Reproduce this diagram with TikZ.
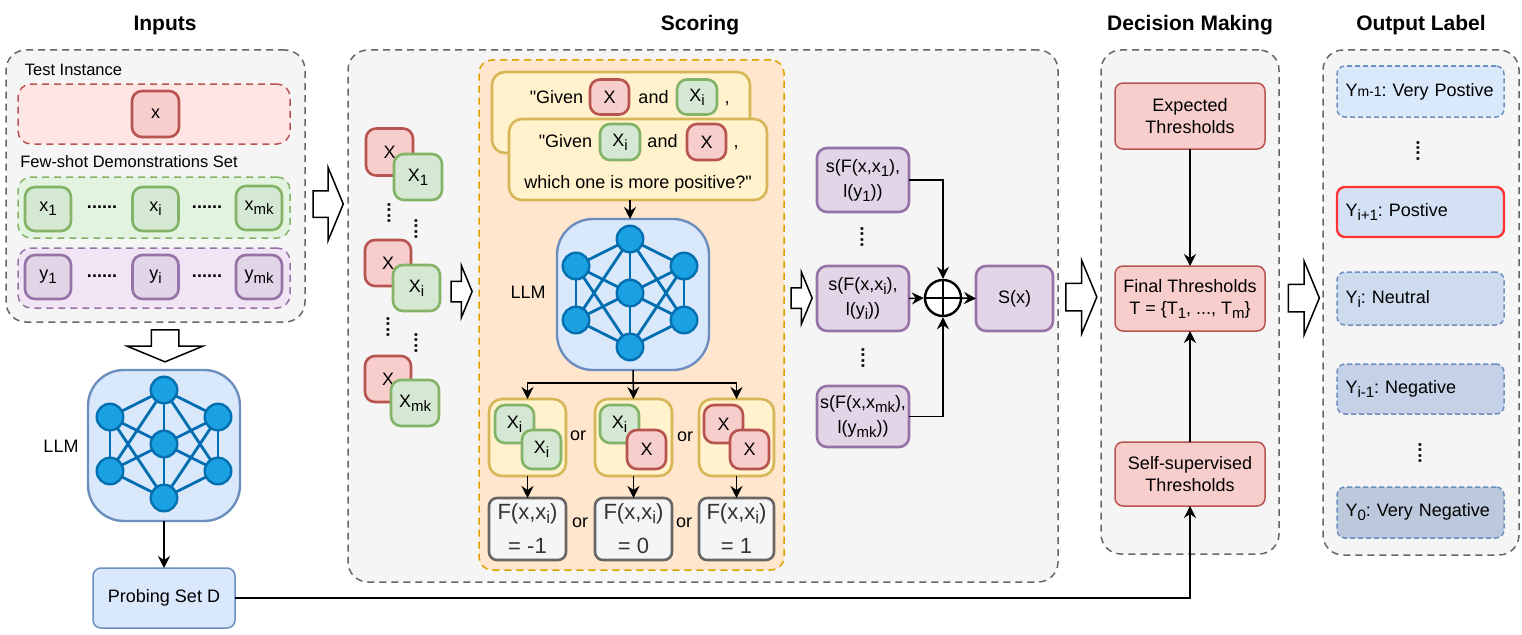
\documentclass[tikz,border=0pt]{standalone}
\usepackage{fontspec}
\setmainfont{Liberation Sans}[Ligatures=TeXOff]
\usetikzlibrary{arrows.meta, shapes.arrows}

\definecolor{panelFill}{HTML}{F5F5F5}
\definecolor{panelLine}{HTML}{666666}
\definecolor{redFill}{HTML}{F8CECC}
\definecolor{redLine}{HTML}{B85450}
\definecolor{redPanel}{HTML}{FFE6E5}
\definecolor{greenFill}{HTML}{D5E8D4}
\definecolor{greenLine}{HTML}{82B366}
\definecolor{greenPanel}{HTML}{E2F4DF}
\definecolor{purpleFill}{HTML}{E1D5E7}
\definecolor{purpleLine}{HTML}{9673A6}
\definecolor{purplePanel}{HTML}{F0E4F5}
\definecolor{blueFill}{HTML}{DAE8FC}
\definecolor{blueLine}{HTML}{6C8EBF}
\definecolor{blueFillB}{HTML}{D4E1F5}
\definecolor{blueFillC}{HTML}{CEDBEF}
\definecolor{blueFillD}{HTML}{C4D1E6}
\definecolor{blueFillE}{HTML}{BCC8DC}
\definecolor{yellowFill}{HTML}{FFF2CC}
\definecolor{yellowLine}{HTML}{D6B656}
\definecolor{orangeFill}{HTML}{FFE6CC}
\definecolor{orangeLine}{HTML}{E0A000}
\definecolor{netFill}{HTML}{1BA1E2}
\definecolor{netLine}{HTML}{006EAF}

\newcommand{\subT}[2][15]{\raisebox{-4pt}{\fontsize{#1}{#1}\selectfont #2}}

\tikzset{
  textNode/.style = {inner sep=0, font=\fontsize{18}{23}\selectfont, align=center},
  smallText/.style = {textNode, font=\fontsize{16.5}{20}\selectfont},
  titleText/.style = {textNode, font=\fontsize{21}{24}\selectfont\bfseries},
  boxSize/.style 2 args = {minimum width=#1, minimum height=#2, inner sep=0, outer sep=0, align=center, font=\fontsize{18}{25}\selectfont},
  panel/.style = {draw=panelLine, fill=panelFill, line width=1.5, dash pattern=on 7 off 5, rounded corners=20},
  subPanel/.style = {line width=1.5, dash pattern=on 7 off 5, rounded corners=13},
  cell/.style = {line width=2.6, rounded corners=10},
  redCell/.style = {cell, draw=redLine, fill=redFill},
  greenCell/.style = {cell, draw=greenLine, fill=greenFill},
  purpleCell/.style = {cell, draw=purpleLine, fill=purpleFill},
  yellowCell/.style = {cell, draw=yellowLine, fill=yellowFill, rounded corners=13},
  grayCell/.style = {cell, draw=panelLine, fill=panelFill, text=black!80, rounded corners=8},
  thresholdBox/.style = {draw=redLine, fill=redFill, line width=1.5, rounded corners=8},
  labelBox/.style = {line width=1.5, rounded corners=8, draw=blueLine, dash pattern=on 5 off 3},
  labelText/.style = {text width=150, align=left},
  llmBox/.style = {draw=blueLine, fill=blueFill, line width=2.4, rounded corners=36},
  netNode/.style = {circle, draw=netLine, fill=netFill, line width=2.4, minimum size=26.5, inner sep=0},
  netEdge/.style = {draw=netLine, line width=2.8},
  flowArrow/.style = {line width=1.5, -{Stealth[length=12, width=12, inset=4]}},
  blockArrow/.style n args = {3}{draw, fill=white, line width=1.5, single arrow, inner sep=0, outer sep=0,
    single arrow tip angle=135, minimum height=#1, text height=#3, text depth=0pt, text width=0pt,
    single arrow head extend={(#2-#3)/2}},
  hDots/.style = {textNode, font=\fontsize{18}{18}\selectfont\bfseries},
  vDots/.style = {hDots, rotate=90}
}

\newcommand{\netEdges}[1]{
  \foreach \a/\b in {Top/UpL, Top/UpR, Top/Mid, Top/LowL, Top/LowR, UpL/Mid, UpR/Mid, UpL/LowL,
    UpR/LowR, UpL/Bot, UpR/Bot, LowL/Mid, LowR/Mid, LowL/Bot, LowR/Bot, Mid/Bot}
    \draw[netEdge] (#1\a) -- (#1\b);
}
\newcommand{\netNodes}[3]{
  \begin{scope}[shift={(#2,#3)}]
    \coordinate (#1Top) at (0,-54);
    \coordinate (#1UpL) at (-54,-27);
    \coordinate (#1UpR) at (54,-27);
    \coordinate (#1Mid) at (0,0);
    \coordinate (#1LowL) at (-54,27);
    \coordinate (#1LowR) at (54,27);
    \coordinate (#1Bot) at (0,54);
  \end{scope}
  \netEdges{#1}
  \foreach \a in {Top, UpL, UpR, Mid, LowL, LowR, Bot}
    \node[netNode] (#1\a Node) at (#1\a) {};
}

\begin{document}
\frenchspacing
\begin{tikzpicture}[x=1pt, y=-1pt]
  \useasboundingbox (0,0) rectangle (1522,634);

  % titles
  \node[titleText] (titleInputs) at (165,25) {Inputs};
  \node[titleText] (titleScoring) at (700,25) {Scoring};
  \node[titleText] (titleDecision) at (1190,25) {Decision Making};
  \node[titleText] (titleOutput) at (1421,25) {Output Label};

  % inputs
  \node[panel, boxSize={299}{272}] (inputsPanel) at (155.5,186) {};
  \node[smallText] (testLabel) at (73.5,70) {Test Instance};
  \node[subPanel, draw=redLine, fill=redPanel, boxSize={272}{60}] (testPanel) at (154,114) {};
  \node[redCell, boxSize={47}{46}] (testX) at (155.5,114) {x};
  \node[smallText] (demoLabel) at (129,162) {Few-shot Demonstrations Set};

  \node[subPanel, draw=greenLine, fill=greenPanel, boxSize={272}{61}] (demoXPanel) at (154,207.5) {};
  \node[greenCell, boxSize={46}{44}] (demoXOne) at (48,209) {x\subT{1}};
  \node[hDots] (demoXDotsA) at (102,207) {......};
  \node[greenCell, boxSize={46}{44}] (demoXI) at (155.5,209) {x\subT{i}};
  \node[hDots] (demoXDotsB) at (207,207) {......};
  \node[greenCell, boxSize={46}{44}] (demoXMk) at (259,208) {x\subT{mk}};

  \node[subPanel, draw=purpleLine, fill=purplePanel, boxSize={272}{60}] (demoYPanel) at (154,278) {};
  \node[purpleCell, boxSize={46}{44}] (demoYOne) at (48,277) {y\subT{1}};
  \node[hDots] (demoYDotsA) at (102,276) {......};
  \node[purpleCell, boxSize={46}{44}] (demoYI) at (155.5,277) {y\subT{i}};
  \node[hDots] (demoYDotsB) at (207,276) {......};
  \node[purpleCell, boxSize={46}{44}] (demoYMk) at (259,277) {y\subT{mk}};

  \node[blockArrow={32}{74}{26}, rotate=-90] (arrowDown) at (165,343) {};

  \node[llmBox, boxSize={152}{151}] (llmOneBox) at (164,445.5) {};
  \netNodes{netOne}{164}{444}
  \node[textNode] (llmOneLabel) at (61,446) {LLM};

  \node[draw=blueLine, fill=blueFill, line width=1.5, rounded corners=8, boxSize={142}{60}] (probeBox) at (164,598) {Probing Set D};
  \draw[flowArrow] (llmOneBox.south) -- (probeBox.north);

  % scoring
  \node[blockArrow={30}{72}{25}] (arrowScoring) at (325.5,204) {};
  \node[panel, boxSize={710}{532}] (scoringPanel) at (703,316) {};

  \node[redCell, boxSize={47}{47}] (pairOneX) at (389.5,152) {X};
  \node[greenCell, boxSize={48}{46}] (pairOneY) at (418,177) {X\subT{1}};
  \node[vDots] (pairDotsA) at (389,213) {....};
  \node[vDots] (pairDotsB) at (416,229) {....};
  \node[redCell, boxSize={46}{46}] (pairIX) at (388,263) {X};
  \node[greenCell, boxSize={47}{46}] (pairIY) at (416.5,288) {X\subT{i}};
  \node[vDots] (pairDotsC) at (388,327) {....};
  \node[vDots] (pairDotsD) at (416,343) {....};
  \node[redCell, boxSize={46}{46}] (pairMkX) at (388,379) {X};
  \node[greenCell, boxSize={48}{46}] (pairMkY) at (415,403) {X\subT{mk}};

  \node[blockArrow={21}{51}{19}] (arrowPairs) at (459.5,291.5) {};

  \node[subPanel, draw=orangeLine, fill=orangeFill, boxSize={305}{510}] (llmPanel) at (631.5,315) {};

  \node[yellowCell, boxSize={258}{81}] (promptBack) at (621,112.5) {};
  \node[textNode] (promptBackA) at (556.5,97) {"Given};
  \node[redCell, boxSize={39}{35}] (promptBackX) at (609.5,97) {X};
  \node[textNode] (promptBackB) at (653.5,97) {and};
  \node[greenCell, boxSize={40}{35}] (promptBackY) at (697,97) {X\subT{i}};
  \node[textNode, anchor=base] (promptBackC) at (727,103) {,};

  \node[yellowCell, boxSize={258}{81}] (promptFront) at (638,159.5) {};
  \node[textNode] (promptFrontA) at (565.5,141) {"Given};
  \node[greenCell, boxSize={40}{36}] (promptFrontY) at (620,142) {X\subT{i}};
  \node[textNode] (promptFrontB) at (662.5,141) {and};
  \node[redCell, boxSize={39}{36}] (promptFrontX) at (706.5,142) {X};
  \node[textNode, anchor=base] (promptFrontC) at (736,147) {,};
  \node[textNode] (promptFrontD) at (638,184) {which one is more positive?"};

  \node[llmBox, boxSize={152}{151}] (llmTwoBox) at (633,294.5) {};
  \netNodes{netTwo}{630}{293}
  \node[textNode] (llmTwoLabel) at (528,292) {LLM};
  \draw[flowArrow] (promptFront.south -| netTwoTop) -- (llmTwoBox.north -| netTwoTop);

  \node[yellowCell, boxSize={77}{77}] (choiceA) at (527.5,437.5) {};
  \node[greenCell, boxSize={39}{38}] (choiceAOne) at (514.5,424) {X\subT{i}};
  \node[greenCell, boxSize={39}{39}] (choiceATwo) at (541.5,449.5) {X\subT{i}};
  \node[textNode] (orA) at (578,436) {or};

  \node[yellowCell, boxSize={77}{77}] (choiceB) at (633.5,437.5) {};
  \node[greenCell, boxSize={39}{38}] (choiceBOne) at (619.5,424) {X\subT{i}};
  \node[redCell, boxSize={39}{39}] (choiceBTwo) at (646.5,449.5) {X};
  \node[textNode] (orB) at (685,437) {or};

  \node[yellowCell, boxSize={75}{77}] (choiceC) at (736.5,437.5) {};
  \node[redCell, boxSize={39}{38}] (choiceCOne) at (723.5,424) {X};
  \node[redCell, boxSize={39}{39}] (choiceCTwo) at (749.5,449.5) {X};

  \coordinate (llmJoin) at (634,383);
  \draw[flowArrow] (llmTwoBox.south) -- (choiceB.north);
  \draw[flowArrow] (llmJoin) -| (choiceA.north);
  \draw[flowArrow] (llmJoin) -| (choiceC.north);

  \node[grayCell, boxSize={77}{62}, font=\fontsize{22}{34}\selectfont] (resultA) at (527.5,529) {F(x,x\subT[17]{i})\\= -1};
  \node[grayCell, boxSize={77}{62}, font=\fontsize{22}{34}\selectfont] (resultB) at (633.5,529) {F(x,x\subT[17]{i})\\= 0};
  \node[grayCell, boxSize={75}{62}, font=\fontsize{22}{34}\selectfont] (resultC) at (736.5,529) {F(x,x\subT[17]{i})\\= 1};
  \node[textNode] (orC) at (580,523) {or};
  \node[textNode] (orD) at (684,523) {or};
  \draw[flowArrow] (choiceA.south) -- (resultA.north);
  \draw[flowArrow] (choiceB.south) -- (resultB.north);
  \draw[flowArrow] (choiceC.south) -- (resultC.north);

  \node[blockArrow={21}{50}{19}] (arrowScores) at (799.5,298) {};

  \node[purpleCell, boxSize={92}{64}] (scoreOne) at (863,180) {s(F(x,x\subT{1}),\\l(y\subT{1}))};
  \node[vDots] (scoreDotsA) at (862,237) {....};
  \node[purpleCell, boxSize={92}{65}] (scoreI) at (863,298.5) {s(F(x,x\subT{i}),\\l(y\subT{i}))};
  \node[vDots] (scoreDotsB) at (863,358) {....};
  \node[purpleCell, boxSize={92}{61}] (scoreMk) at (863,416.5) {s(F(x,x\subT{mk}),\\l(y\subT{mk}))};

  \node[circle, draw, fill=white, line width=2.4, minimum size=36, inner sep=0] (oplusNode) at (943,298) {};
  \draw[line width=1.5] (oplusNode.north) -- (oplusNode.south);
  \draw[line width=1.5] (oplusNode.west) -- (oplusNode.east);
  \node[purpleCell, boxSize={77}{65}] (scoreTotal) at (1014.5,298.5) {S(x)};

  \draw[flowArrow] (scoreOne.east) -| (oplusNode.north);
  \draw[flowArrow] (scoreMk.east) -| (oplusNode.south);
  \draw[flowArrow] (scoreI.east) -- (oplusNode.west);
  \draw[flowArrow] (oplusNode.east) -- (scoreTotal.west);

  % decision making
  \node[blockArrow={31}{72}{26}] (arrowDecision) at (1078.5,297) {};
  \node[panel, boxSize={178}{504}] (decisionPanel) at (1190,302) {};
  \node[thresholdBox, boxSize={150}{66}, font=\fontsize{18}{22}\selectfont] (expectedBox) at (1190,116) {Expected\\Thresholds};
  \node[thresholdBox, boxSize={150}{65}, font=\fontsize{18}{22}\selectfont] (finalBox) at (1190,298.5) {Final Thresholds\\T = \{T\subT{1}, ..., T\subT{m}\}};
  \node[thresholdBox, boxSize={150}{64}, font=\fontsize{18}{22}\selectfont] (selfBox) at (1190,474) {Self-supervised\\Thresholds};
  \draw[flowArrow] (expectedBox.south) -- (finalBox.north);
  \draw[flowArrow] (selfBox.north) -- (finalBox.south);
  \draw[flowArrow] (probeBox.east) -| (selfBox.south);

  % output label
  \node[blockArrow={31}{72}{26}] (arrowOutput) at (1301,298) {};
  \node[panel, boxSize={196}{505}] (outputPanel) at (1421,302.5) {};
  \node[labelBox, fill=blueFill, boxSize={167}{51}, labelText] (labelVeryPos) at (1420.5,91.5) {Y{\fontsize{14}{14}\selectfont m-1}: Very Postive};
  \node[vDots] (labelDotsA) at (1418,151) {....};
  \node[labelBox, solid, draw=red!80!white, line width=2.4, fill=blueFillB, boxSize={167}{50}, labelText] (labelPos) at (1420.5,212) {Y\subT{i+1}: Postive};
  \node[labelBox, fill=blueFillC, boxSize={167}{53}, labelText] (labelNeutral) at (1420.5,298.5) {Y\subT{i}: Neutral};
  \node[labelBox, fill=blueFillD, boxSize={167}{50}, labelText] (labelNeg) at (1420.5,389) {Y\subT{i-1}: Negative};
  \node[vDots] (labelDotsB) at (1420,453) {....};
  \node[labelBox, fill=blueFillE, boxSize={167}{51}, labelText] (labelVeryNeg) at (1420.5,512.5) {Y\subT{0}: Very Negative};
\end{tikzpicture}
\end{document}
